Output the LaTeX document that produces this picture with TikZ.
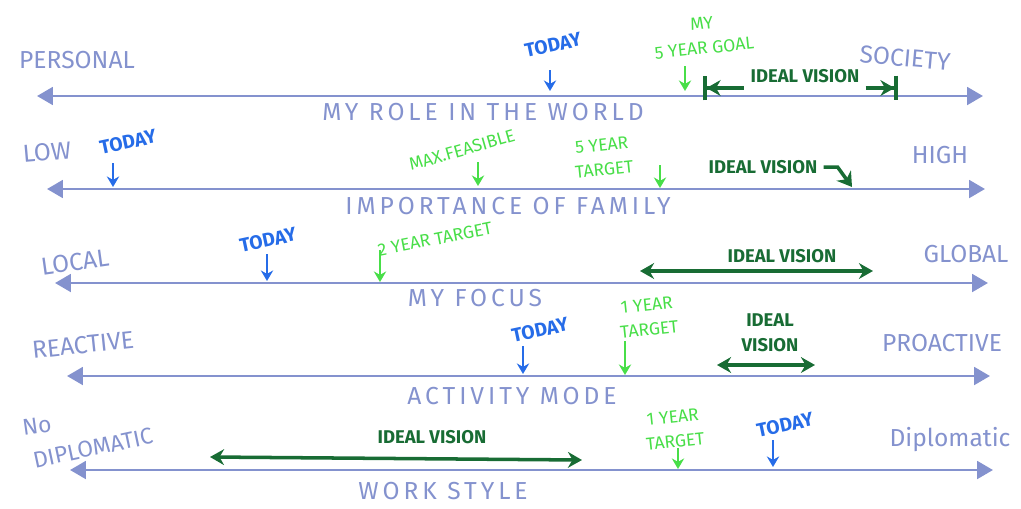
\documentclass[tikz,border=0pt]{standalone}
\usepackage{fontspec}
\setmainfont{Fira Sans}
\usetikzlibrary{arrows.meta}

\definecolor{axiscol}{RGB}{132,146,206}
\definecolor{todaycol}{RGB}{38,108,232}
\definecolor{targetcol}{RGB}{72,222,72}
\definecolor{idealcol}{RGB}{24,108,52}

\tikzset{
  axisline/.style={draw=axiscol, line width=1.6pt,
    {Triangle[length=9pt,width=10pt]}-{Triangle[length=9pt,width=10pt]}},
  pole/.style={text=axiscol, font=\fontsize{14}{17}\selectfont, align=center},
  axistitle/.style={text=axiscol, font=\fontsize{14}{15}\selectfont\addfontfeature{LetterSpace=16}},
  todaytext/.style={text=todaycol, font=\bfseries\fontsize{11}{11}\selectfont, rotate=12},
  targettext/.style={text=targetcol, font=\fontsize{10}{14}\selectfont, align=center, rotate=6},
  idealtext/.style={text=idealcol, font=\bfseries\fontsize{10.5}{14}\selectfont, align=center},
  todayarrow/.style={draw=todaycol, line width=1.4pt, -{Stealth[length=6pt,width=7pt]}},
  targetarrow/.style={draw=targetcol, line width=1.3pt, -{Stealth[length=6pt,width=7pt]}},
  idealarrow/.style={draw=idealcol, line width=2pt, {Stealth[length=8pt,width=9pt]}-{Stealth[length=8pt,width=9pt]}}
}

\begin{document}
\begin{tikzpicture}[x=0.02cm, y=-0.02cm]
  \useasboundingbox (0,0) rectangle (1021,508);

  % axes
  \begin{scope}
    \coordinate (1l) at (37,96);   \coordinate (1r) at (983,96);
    \coordinate (2l) at (47,189);  \coordinate (2r) at (985,189);
    \coordinate (3l) at (55,283);  \coordinate (3r) at (988,283);
    \coordinate (4l) at (67,376);  \coordinate (4r) at (990,376);
    \coordinate (5l) at (70,470);  \coordinate (5r) at (993,470);
    \foreach \i in {1,...,5}
      \draw[axisline] (\i l) -- (\i r);
  \end{scope}

  % pole labels and titles
  \begin{scope}[every node/.style={pole}]
    \node (personal) at (77,60)  {PERSONAL};
    \node (society)  at (905,58) [rotate=-5] {SOCIETY};
    \node (low)      at (47,152) [rotate=5] {LOW};
    \node (high)     at (940,155) {HIGH};
    \node (local)    at (75,262) [rotate=8] {LOCAL};
    \node (global)   at (966,254) {GLOBAL};
    \node (reactive) at (83,345) [rotate=6] {REACTIVE};
    \node (proactive) at (942,343) {PROACTIVE};
    \node (no)       at (37,426) [rotate=8, font=\fontsize{13}{15}\selectfont] {No};
    \node (nodipl)   at (93,448) [rotate=12, font=\fontsize{13}{15}\selectfont] {DIPLOMATIC};
    \node (dipl)     at (950,440) {Diplomatic};
  \end{scope}

  \begin{scope}[every node/.style={axistitle}]
    \node (role)   at (483,112) {MY ROLE IN THE WORLD};
    \node (family) at (508,206) {IMPORTANCE OF FAMILY};
    \node (focus)  at (475,298) {MY FOCUS};
    \node (mode)   at (512,396) {ACTIVITY MODE};
    \node (style)  at (443,491) {WORK STYLE};
  \end{scope}

  % today
  \begin{scope}[every node/.style={todaytext}]
    \node (t1) at (553,45)  {TODAY};
    \node (t2) at (128,142) {TODAY};
    \node (t3) at (268,240) {TODAY};
    \node (t4) at (540,330) {TODAY};
    \node (t5) at (785,425) {TODAY};
  \end{scope}
  \coordinate (t1a) at (550,70);  \coordinate (t1b) at (550,91);
  \coordinate (t2a) at (113,163); \coordinate (t2b) at (113,187);
  \coordinate (t3a) at (267,254); \coordinate (t3b) at (267,281);
  \coordinate (t4a) at (523,346); \coordinate (t4b) at (523,374);
  \coordinate (t5a) at (773,440); \coordinate (t5b) at (773,467);
  \foreach \i in {1,...,5}
    \draw[todayarrow] (t\i a) -- (t\i b);

  % targets
  \begin{scope}[every node/.style={targettext}]
    \node (g1) at (703,36) {MY\\5 YEAR GOAL};
    \node (g2) at (462,150) [rotate=10] {MAX.FEASIBLE};
    \node (g3) at (603,157) [rotate=0] {5 YEAR\\TARGET};
    \node (g4) at (435,239) [rotate=5] {2 YEAR TARGET};
    \node (g5) at (648,317) {1 YEAR\\TARGET};
    \node (g6) at (674,429) {1 YEAR\\TARGET};
  \end{scope}
  \coordinate (g1a) at (685,66);  \coordinate (g1b) at (685,91);
  \coordinate (g2a) at (478,162); \coordinate (g2b) at (478,186);
  \coordinate (g3a) at (660,165); \coordinate (g3b) at (660,188);
  \coordinate (g4a) at (380,250); \coordinate (g4b) at (380,282);
  \coordinate (g5a) at (625,341); \coordinate (g5b) at (625,375);
  \coordinate (g6a) at (678,448); \coordinate (g6b) at (678,469);
  \foreach \i in {1,...,6}
    \draw[targetarrow] (g\i a) -- (g\i b);

  % ideal vision
  \begin{scope}[every node/.style={idealtext}]
    \node (iv1) at (805,76)  {IDEAL VISION};
    \node (iv2) at (763,167) {IDEAL VISION};
    \node (iv3) at (782,256) {IDEAL VISION};
    \node (iv4) at (770,333) {IDEAL\\VISION};
    \node (iv5) at (432,437) {IDEAL VISION};
  \end{scope}
  \coordinate (iv1l) at (703,88); \coordinate (iv1r) at (898,88);
  \draw[idealcol, line width=2pt, {Bar[width=14pt]Stealth[length=8pt,width=9pt]}-] (iv1l) -- (iv1.west |- iv1l);
  \draw[idealcol, line width=2pt, -{Stealth[length=8pt,width=9pt]Bar[width=14pt]}] (iv1.east |- iv1r) -- (iv1r);
  \coordinate (iv2b) at (852,187);
  \draw[idealcol, line width=2pt, -{Stealth[length=8pt,width=10pt]}] (iv2.east) -- ++(14,0) -- (iv2b);
  \coordinate (iv3l) at (640,271); \coordinate (iv3r) at (873,271);
  \draw[idealarrow] (iv3l) -- (iv3r);
  \coordinate (iv4l) at (717,365); \coordinate (iv4r) at (815,365);
  \draw[idealarrow] (iv4l) -- (iv4r);
  \coordinate (iv5l) at (210,457); \coordinate (iv5r) at (582,460);
  \draw[idealarrow] (iv5l) -- (iv5r);

\end{tikzpicture}
\end{document}
